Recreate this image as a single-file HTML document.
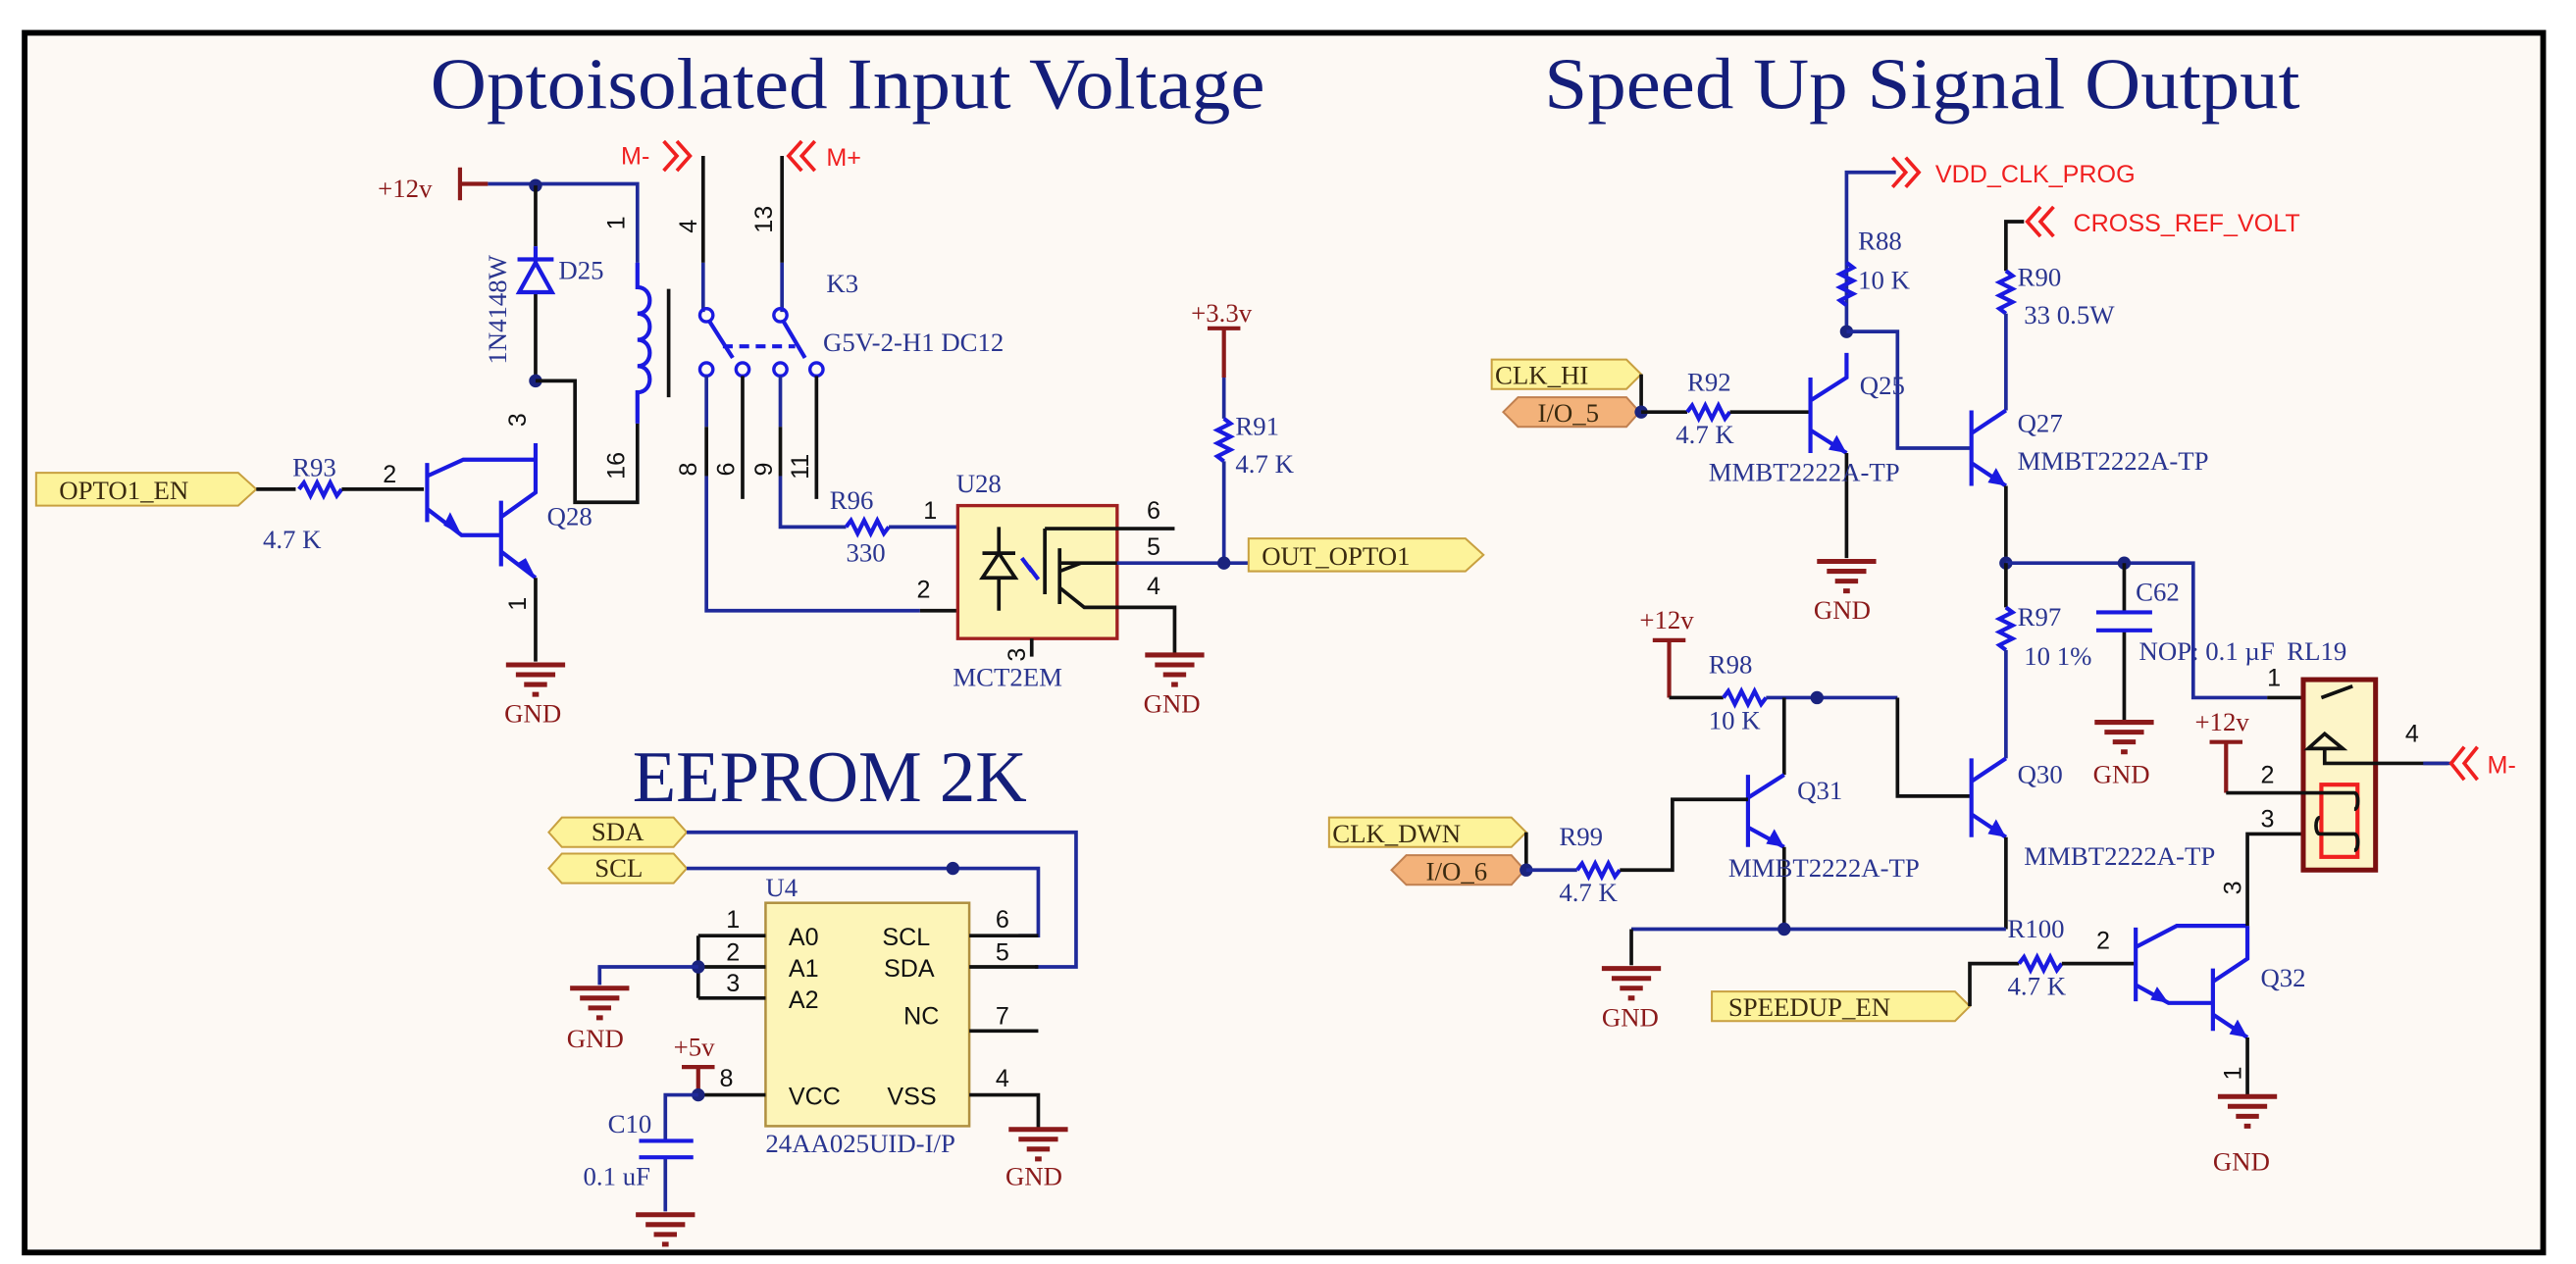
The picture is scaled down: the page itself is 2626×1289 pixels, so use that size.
<!DOCTYPE html>
<html><head><meta charset="utf-8"><style>
html,body{margin:0;padding:0;background:#fff;}
svg{display:block;}
.t{font-family:"Liberation Serif",serif;fill:#2a3590;font-size:16px;}
.n{font-family:"Liberation Sans",sans-serif;fill:#111;font-size:15px;}
.r{font-family:"Liberation Serif",serif;fill:#8b1a1a;font-size:16px;}
.p{font-family:"Liberation Sans",sans-serif;fill:#f02020;font-size:15px;}
.ttl{font-family:"Liberation Serif",serif;fill:#141e7a;font-size:44px;}
.w{stroke:#1f2a9a;stroke-width:2.2;fill:none;}
.k{stroke:#111;stroke-width:2.2;fill:none;}
.c{stroke:#1a1ae0;stroke-width:2.5;fill:none;}
.pw{stroke:#8b1a1a;stroke-width:2.5;fill:none;}
.g{stroke:#8b1a1a;stroke-width:3;fill:none;}
.pr{stroke:#f02020;stroke-width:2.2;fill:none;}
.dot{fill:#1a237e;}
.port{fill:#fdf39a;stroke:#c8a040;stroke-width:1.2;}
.oport{fill:#f3b27a;stroke:#c08050;stroke-width:1.2;}
</style></head><body>
<svg width="2626" height="1289" viewBox="0 0 1568 770" preserveAspectRatio="none" xmlns="http://www.w3.org/2000/svg">
<defs>
<g id="gnd"><path class="g" d="M-18 0H18M-12 6H12M-7 12H7M-2 18H2"/></g>
<g id="rh"><path class="c" d="M0 0l3 -4l4 8l4 -8l4 8l4 -8l4 8l3 -4"/></g>
<g id="rv"><path class="c" d="M0 0l4 3l-8 4l8 4l-8 4l8 4l-8 4l4 3"/></g>
</defs>
<rect x="0" y="0" width="1568" height="770" fill="#fff"/>
<rect x="15" y="20" width="1533" height="743" fill="#fdf9f4" stroke="#000" stroke-width="3.5"/>

<text class="ttl" x="262" y="66" textLength="508" lengthAdjust="spacingAndGlyphs">Optoisolated Input Voltage</text>
<text class="ttl" x="940" y="66" textLength="460" lengthAdjust="spacingAndGlyphs">Speed Up Signal Output</text>
<text class="ttl" x="385" y="488" textLength="240" lengthAdjust="spacingAndGlyphs">EEPROM 2K</text>

<!-- LEFT: +12v, diode, coil -->
<text class="r" x="230" y="120">+12v</text>
<path class="pw" d="M280 102V122M280 112H297"/>
<path class="w" d="M297 112H388V160"/>
<circle class="dot" cx="326" cy="113" r="4"/>
<path class="k" d="M326 113V150M326 178V232"/>
<path d="M316 178L326 160L336 178Z" fill="none" stroke="#1a1ae0" stroke-width="2.5"/>
<path class="c" d="M315 158H337M326 150V160"/>
<text class="t" x="340" y="170">D25</text>
<text class="t" transform="translate(308,222) rotate(-90)">1N4148W</text>
<circle class="dot" cx="326" cy="232" r="4"/>
<path class="k" d="M326 232H350V306H388V258"/>
<path class="c" d="M388 160V175c10 0 10 16 0 16c10 0 10 16 0 16c10 0 10 16 0 16c10 0 10 16 0 16V258"/>
<path class="k" d="M407 176V242"/>
<text class="n" transform="translate(380,140) rotate(-90)">1</text>
<text class="n" transform="translate(380,292) rotate(-90)">16</text>
<text class="n" transform="translate(320,260) rotate(-90)">3</text>

<!-- OPTO1_EN + R93 + Q28 -->
<polygon class="port" points="22,288 145,288 156,298 145,308 22,308"/>
<text class="t" x="36" y="304" style="fill:#3a2a10">OPTO1_EN</text>
<path class="k" d="M156 298H180"/>
<use href="#rh" x="182" y="298"/>
<path class="k" d="M208 298H258"/>
<text class="t" x="178" y="290">R93</text>
<text class="t" x="160" y="334">4.7 K</text>
<text class="n" x="233" y="294">2</text>
<path class="c" d="M260 282V318M260 290L282 280H326M260 310L281 326H305M305 305V345M305 315L326 300V270M305 336L326 352"/>
<path d="M270 320L281 326L274 312Z" fill="#1a1ae0"/>
<path d="M315 343L326 352L320 340Z" fill="#1a1ae0"/>
<path class="k" d="M326 352V403"/>
<use href="#gnd" x="326" y="405"/>
<text class="r" x="307" y="440">GND</text>
<text class="n" transform="translate(320,372) rotate(-90)">1</text>
<text class="t" x="333" y="320">Q28</text>

<!-- RELAY K3 -->
<text class="p" x="378" y="100">M-</text>
<path class="pr" d="M404 86L412 95L404 104M412 86L420 95L412 104"/>
<path class="k" d="M428 95V160"/><path class="w" d="M428 160V190"/>
<path class="pr" d="M488 86L480 95L488 104M496 86L488 95L496 104"/>
<text class="p" x="503" y="101">M+</text>
<path class="k" d="M476 95V160"/><path class="w" d="M476 160V190"/>
<text class="n" transform="translate(424,142) rotate(-90)">4</text>
<text class="n" transform="translate(470,142) rotate(-90)">13</text>
<g fill="none" stroke="#1a1ae0" stroke-width="2"><circle cx="430" cy="192" r="4"/><circle cx="475" cy="192" r="4"/><circle cx="430" cy="225" r="4"/><circle cx="452" cy="225" r="4"/><circle cx="475" cy="225" r="4"/><circle cx="497" cy="225" r="4"/></g>
<path class="c" d="M432 196L446 218M477 196L490 218"/>
<path d="M440 211H484" stroke="#1a1ae0" stroke-width="2.5" stroke-dasharray="6 4"/>
<text class="t" x="503" y="178">K3</text>
<text class="t" x="501" y="214">G5V-2-H1 DC12</text>
<path class="w" d="M430 229V260"/><path class="k" d="M430 260V290"/><path class="w" d="M430 290V372H560"/><path class="k" d="M560 372H608"/>
<path class="k" d="M452 229V304M497 229V304"/>
<path class="w" d="M475 229V260"/><path class="k" d="M475 260V290"/><path class="w" d="M475 290V321H515"/>
<use href="#rh" x="515" y="321"/>
<path class="w" d="M541 321H608"/>
<text class="n" transform="translate(424,290) rotate(-90)">8</text>
<text class="n" transform="translate(447,290) rotate(-90)">6</text>
<text class="n" transform="translate(470,290) rotate(-90)">9</text>
<text class="n" transform="translate(492,292) rotate(-90)">11</text>
<text class="t" x="505" y="310">R96</text>
<text class="t" x="515" y="342">330</text>
<text class="n" x="562" y="316">1</text>
<text class="n" x="558" y="364">2</text>

<!-- U28 -->
<rect x="583" y="308" width="97" height="81" fill="#fdf5b8" stroke="#a02020" stroke-width="2"/>
<text class="t" x="582" y="300">U28</text>
<text class="t" x="580" y="418">MCT2EM</text>
<path class="k" d="M608 321V336M608 352V372M598 337H618M598 352L608 337L618 352Z"/>
<path d="M622 340l6 8M626 345l6 8" stroke="#1a1ae0" stroke-width="2.5"/>
<path class="k" d="M636 322V362M645 334V368M645 343H680M645 358L660 370H715V398M645 348L658 343M636 322H715"/>
<path class="w" d="M680 343H760"/>
<path class="k" d="M628 389V400"/>
<text class="n" transform="translate(624,403) rotate(-90)">3</text>
<text class="n" x="698" y="316">6</text><text class="n" x="698" y="338">5</text><text class="n" x="698" y="362">4</text>
<use href="#gnd" x="715" y="399"/>
<text class="r" x="696" y="434">GND</text>
<text class="r" x="725" y="196">+3.3v</text>
<path class="pw" d="M735 200H755M745 200V230"/>
<path class="w" d="M745 230V255"/>
<use href="#rv" x="745" y="255"/>
<path class="w" d="M745 281V343"/>
<circle class="dot" cx="745" cy="343" r="4"/>
<text class="t" x="752" y="265">R91</text>
<text class="t" x="752" y="288">4.7 K</text>
<polygon class="port" points="760,328 892,328 903,338 892,348 760,348"/>
<text class="t" x="768" y="344" style="fill:#3a2a10">OUT_OPTO1</text>

<!-- EEPROM -->
<polygon class="port" points="334,507 342,498 410,498 418,507 410,516 342,516"/>
<text class="t" x="360" y="512" style="fill:#3a2a10">SDA</text>
<polygon class="port" points="334,529 342,520 410,520 418,529 410,538 342,538"/>
<text class="t" x="362" y="534" style="fill:#3a2a10">SCL</text>
<path class="w" d="M418 507H655V589H630"/>
<path class="w" d="M418 529H632V570H620"/>
<circle class="dot" cx="580" cy="529" r="4"/>
<rect x="466" y="550" width="124" height="136" fill="#fdf5b8" stroke="#b09040" stroke-width="1.5"/>
<text class="t" x="466" y="546">U4</text>
<text class="t" x="466" y="702">24AA025UID-I/P</text>
<path class="k" d="M425 570H466M425 589H466M425 608H466M425 570V608M590 570H632M590 589H632M590 628H632M590 667H632V688M425 667H466"/>
<circle class="dot" cx="425" cy="589" r="4"/>
<path class="w" d="M425 589H365V600"/>
<use href="#gnd" x="365" y="602"/>
<text class="r" x="345" y="638">GND</text>
<g class="n"><text x="442" y="565">1</text><text x="442" y="585">2</text><text x="442" y="604">3</text>
<text x="606" y="565">6</text><text x="606" y="585">5</text><text x="606" y="624">7</text><text x="606" y="662">4</text><text x="438" y="662">8</text>
<text x="480" y="576">A0</text><text x="480" y="595">A1</text><text x="480" y="614">A2</text>
<text x="537" y="576">SCL</text><text x="538" y="595">SDA</text><text x="550" y="624">NC</text>
<text x="480" y="673">VCC</text><text x="540" y="673">VSS</text></g>
<use href="#gnd" x="632" y="688"/>
<text class="r" x="612" y="722">GND</text>
<text class="r" x="410" y="643">+5v</text>
<path class="pw" d="M415 650H435M425 650V667"/>
<circle class="dot" cx="425" cy="667" r="4"/>
<path class="w" d="M425 667H405V695M405 706V738"/>
<path class="c" d="M389 695H422M389 705H422"/>
<use href="#gnd" x="405" y="740"/>
<text class="t" x="370" y="690">C10</text>
<text class="t" x="355" y="722">0.1 uF</text>

<!-- RIGHT SECTION -->
<path class="w" d="M1124 202V105H1154"/>
<path class="pr" d="M1152 96L1160 105L1152 114M1160 96L1168 105L1160 114"/>
<text class="p" x="1178" y="111">VDD_CLK_PROG</text>
<use href="#rv" x="1124" y="160"/>
<text class="t" x="1131" y="152">R88</text><text class="t" x="1131" y="176">10 K</text>
<circle class="dot" cx="1124" cy="202" r="4"/>
<path class="w" d="M1124 202H1155V273H1200"/>
<path class="k" d="M1221 165V135H1232"/>
<path class="pr" d="M1242 126L1234 135L1242 144M1250 126L1242 135L1250 144"/>
<text class="p" x="1262" y="141">CROSS_REF_VOLT</text>
<use href="#rv" x="1221" y="165"/>
<path class="w" d="M1221 191V250"/>
<text class="t" x="1228" y="174">R90</text><text class="t" x="1232" y="197">33 0.5W</text>

<!-- CLK_HI -->
<polygon class="port" points="908,219 990,219 999,228 990,237 908,237"/>
<text class="t" x="910" y="234" style="fill:#3a2a10">CLK_HI</text>
<polygon class="oport" points="915,251 924,242 990,242 998,251 990,260 924,260"/>
<text class="t" x="936" y="257" style="fill:#3a2a10">I/O_5</text>
<path class="k" d="M999 228V251"/>
<circle class="dot" cx="999" cy="251" r="4"/>
<path class="k" d="M999 251H1027"/>
<use href="#rh" x="1027" y="251"/>
<path class="k" d="M1053 251H1102"/>
<text class="t" x="1027" y="238">R92</text><text class="t" x="1020" y="270">4.7 K</text>
<path class="c" d="M1102 230V276M1102 244L1124 230V215M1102 262L1124 276"/>
<path d="M1113 274L1124 276L1118 265Z" fill="#1a1ae0"/>
<path class="k" d="M1124 276V340"/>
<use href="#gnd" x="1124" y="342"/>
<text class="r" x="1104" y="377">GND</text>
<text class="t" x="1132" y="240">Q25</text>
<text class="t" x="1040" y="293">MMBT2222A-TP</text>

<path class="c" d="M1200 250V296M1200 264L1221 250M1200 282L1221 296"/>
<path d="M1210 294L1221 296L1215 285Z" fill="#1a1ae0"/>
<path class="k" d="M1221 296V343"/>
<text class="t" x="1228" y="263">Q27</text><text class="t" x="1228" y="286">MMBT2222A-TP</text>
<circle class="dot" cx="1221" cy="343" r="4"/>
<path class="w" d="M1221 343H1335V425H1380"/><path class="k" d="M1380 425H1403"/>
<circle class="dot" cx="1293" cy="343" r="4"/>
<path class="k" d="M1293 343V373M1293 384V440"/>
<path class="c" d="M1276 373H1310M1276 384H1310"/>
<use href="#gnd" x="1293" y="440"/>
<text class="r" x="1274" y="477">GND</text>
<text class="t" x="1300" y="366">C62</text>
<text class="t" x="1302" y="402">NOP: 0.1 µF</text>
<text class="t" x="1392" y="402">RL19</text>
<path class="k" d="M1221 343V370"/>
<use href="#rv" x="1221" y="370"/>
<path class="w" d="M1221 396V462"/>
<text class="t" x="1228" y="381">R97</text><text class="t" x="1232" y="405">10 1%</text>

<!-- +12v R98 Q31 Q30 -->
<text class="r" x="998" y="383">+12v</text>
<path class="pw" d="M1006 390H1026M1016 390V425"/>
<path class="k" d="M1016 425H1049"/>
<use href="#rh" x="1049" y="425"/>
<path class="w" d="M1075 425H1155"/><path class="k" d="M1155 425V485H1200"/>
<circle class="dot" cx="1106" cy="425" r="4"/>
<text class="t" x="1040" y="410">R98</text><text class="t" x="1040" y="444">10 K</text>
<path class="k" d="M1086 425V472"/>
<path class="c" d="M1064 472V516M1064 486L1086 472M1064 504L1086 516"/>
<path d="M1075 514L1086 516L1080 505Z" fill="#1a1ae0"/>
<path class="k" d="M1086 516V566"/>
<text class="t" x="1094" y="487">Q31</text>
<text class="t" x="1052" y="534">MMBT2222A-TP</text>

<path class="c" d="M1200 462V510M1200 476L1221 462M1200 496L1221 510"/>
<path d="M1210 508L1221 510L1215 499Z" fill="#1a1ae0"/>
<path class="k" d="M1221 510V566"/>
<text class="t" x="1228" y="477">Q30</text>
<text class="t" x="1232" y="527">MMBT2222A-TP</text>

<polygon class="port" points="809,498 920,498 929,507 920,516 809,516"/>
<text class="t" x="811" y="513" style="fill:#3a2a10">CLK_DWN</text>
<polygon class="oport" points="847,530 856,521 920,521 928,530 920,539 856,539"/>
<text class="t" x="868" y="536" style="fill:#3a2a10">I/O_6</text>
<path class="k" d="M929 507V530"/>
<circle class="dot" cx="929" cy="530" r="4"/>
<path class="w" d="M929 530H960"/>
<use href="#rh" x="960" y="530"/>
<path class="k" d="M986 530H1018V487H1064"/>
<text class="t" x="949" y="515">R99</text><text class="t" x="949" y="549">4.7 K</text>
<path class="w" d="M993 566H1221"/><path class="k" d="M993 566V588"/>
<circle class="dot" cx="1086" cy="566" r="4"/>
<use href="#gnd" x="993" y="590"/>
<text class="r" x="975" y="625">GND</text>

<!-- SPEEDUP_EN Q32 -->
<polygon class="port" points="1042,604 1190,604 1199,613 1190,622 1042,622"/>
<text class="t" x="1052" y="619" style="fill:#3a2a10">SPEEDUP_EN</text>
<path class="k" d="M1199 613V587H1229"/>
<use href="#rh" x="1229" y="587"/>
<path class="k" d="M1255 587H1300"/>
<text class="t" x="1222" y="571">R100</text><text class="t" x="1222" y="606">4.7 K</text>
<text class="n" x="1276" y="578">2</text>
<path class="c" d="M1300 565V610M1300 577L1325 564H1368M1300 600L1320 611H1347M1347 590V628M1347 598L1368 584V564M1347 618L1368 632"/>
<path d="M1309 609L1320 611L1313 601Z" fill="#1a1ae0"/>
<path d="M1357 630L1368 632L1362 621Z" fill="#1a1ae0"/>
<path class="k" d="M1368 632V668M1368 564V508H1412"/>
<use href="#gnd" x="1368" y="668"/>
<text class="r" x="1347" y="713">GND</text>
<text class="n" transform="translate(1364,658) rotate(-90)">1</text>
<text class="n" transform="translate(1364,545) rotate(-90)">3</text>
<text class="t" x="1376" y="601">Q32</text>

<!-- RL19 -->
<rect x="1402" y="414" width="44" height="116" fill="#fdf5c8" stroke="#7a1010" stroke-width="3"/>
<path class="k" d="M1413 425L1432 418"/>
<path class="k" d="M1405 456L1415 447L1426 456ZM1415 456V465H1490"/>
<path class="w" d="M1475 465H1492"/>
<path class="pr" d="M1500 455L1492 465L1500 475M1508 455L1500 465L1508 475"/>
<text class="p" x="1514" y="471">M-</text>
<text class="n" x="1464" y="452">4</text>
<text class="n" x="1380" y="418">1</text>
<rect x="1413" y="478" width="22" height="44" fill="none" stroke="#f02020" stroke-width="2.5"/>
<text class="r" x="1336" y="445">+12v</text>
<path class="pw" d="M1345 452H1365M1355 452V483"/>
<path class="k" d="M1355 483H1433c3 0 3 10 0 10M1412 498c-3 0 -3 10 0 10H1433c3 0 3 10 0 10"/>
<text class="n" x="1376" y="477">2</text>
<text class="n" x="1376" y="504">3</text>
</svg>
</body></html>
